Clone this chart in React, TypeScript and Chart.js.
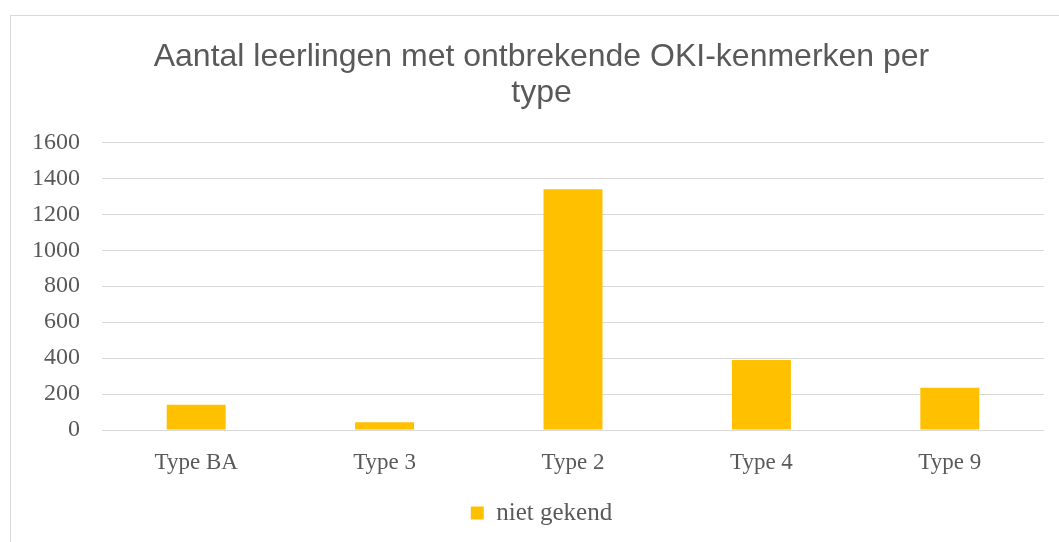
import React, { useEffect, useRef } from "react";
import { Chart, registerables } from "chart.js";

Chart.register(...registerables);

const categories = ["Type BA", "Type 3", "Type 2", "Type 4", "Type 9"];
const nietGekend = [140, 43, 1340, 390, 235];
const seriesLabel = "niet gekend";
const titleLines = ["Aantal leerlingen met ontbrekende OKI-kenmerken per", "type"];
const yMin = 0;
const yMax = 1600;
const yStep = 200;

const TEXT = "#595959";
const GRID = "#d9d9d9";
const BAR = "#FFC000";
const SERIF = "'Liberation Serif', 'Times New Roman', serif";
const SANS = "'Liberation Sans', Arial, sans-serif";

export default function App() {
  const ref = useRef<HTMLCanvasElement | null>(null);

  useEffect(() => {
    if (!ref.current) return;
    const chart = new Chart(ref.current, {
      type: "bar",
      data: {
        labels: categories,
        datasets: [
          {
            label: seriesLabel,
            data: nietGekend,
            backgroundColor: BAR,
            borderWidth: 0,
            barPercentage: 0.313,
            categoryPercentage: 1,
          },
        ],
      },
      options: {
        animation: false,
        responsive: false,
        maintainAspectRatio: false,
        layout: { padding: { left: 0, right: 0, top: 0, bottom: 6.5 } },
        plugins: {
          title: {
            display: true,
            text: titleLines,
            color: TEXT,
            font: { family: SANS, size: 32, weight: "normal", lineHeight: 1.1 },
            padding: { top: 24, bottom: 32 },
          },
          legend: {
            display: true,
            position: "bottom",
            labels: {
              boxWidth: 13,
              boxHeight: 13,
              padding: 4.5,
              color: TEXT,
              font: { family: SERIF, size: 25 },
            },
          },
          tooltip: { enabled: false },
        },
        scales: {
          x: {
            grid: { display: false, drawTicks: false },
            border: { display: false },
            ticks: {
              color: TEXT,
              padding: 19.2,
              font: { family: SERIF, size: 23 },
              maxRotation: 0,
            },
          },
          y: {
            min: yMin,
            max: yMax,
            grid: { color: GRID, lineWidth: 1, drawTicks: false },
            border: { display: false },
            ticks: {
              stepSize: yStep,
              color: TEXT,
              padding: 22,
              font: { family: SERIF, size: 24 },
              callback: (v: any) => String(v),
            },
            afterFit: (scale: any) => {
              scale.width = 91;
            },
          },
          yRight: {
            position: "right",
            min: yMin,
            max: yMax,
            grid: { display: false, drawTicks: false },
            border: { display: false },
            ticks: { display: false },
            afterFit: (scale: any) => {
              scale.width = 28;
            },
          },
        },
      },
    });
    return () => chart.destroy();
  }, []);

  return (
    <div
      style={{
        position: "fixed",
        left: 0,
        top: 0,
        width: 1059,
        height: 542,
        overflow: "hidden",
        background: "#ffffff",
      }}
    >
      <div
        style={{
          position: "absolute",
          left: 10,
          top: 15,
          width: 1100,
          height: 600,
          border: `1px solid ${GRID}`,
          background: "#ffffff",
        }}
      >
        <canvas
          ref={ref}
          width={1061}
          height={526}
          style={{ display: "block", width: 1061, height: 526 }}
        />
      </div>
    </div>
  );
}
